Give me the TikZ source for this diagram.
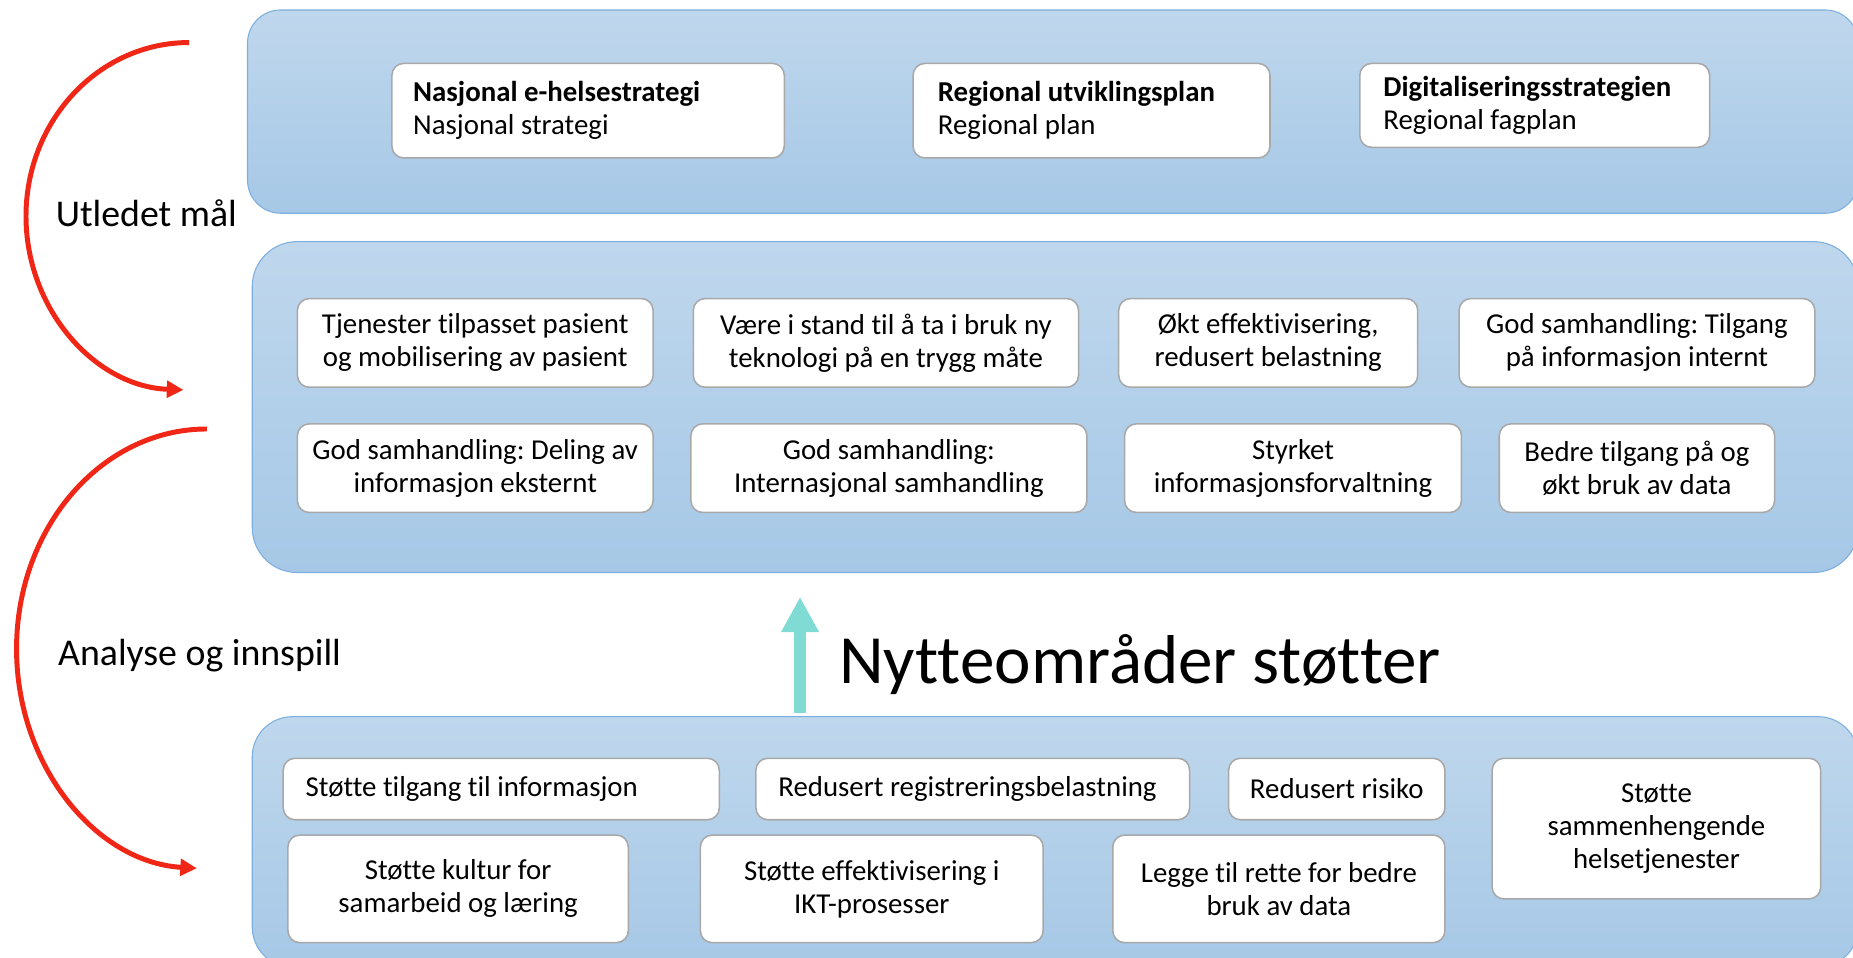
\documentclass[tikz,border=0pt]{standalone}
\usepackage{fontspec}
\setmainfont{Carlito}[Ligatures=NoCommon]
\usetikzlibrary{arrows.meta}

\definecolor{paneltop}{RGB}{191,215,237}
\definecolor{panelbot}{RGB}{166,200,230}
\definecolor{panelline}{RGB}{125,175,222}
\definecolor{boxline}{RGB}{168,168,168}
\definecolor{loopred}{RGB}{240,38,22}
\definecolor{liftteal}{RGB}{128,219,212}

\begin{document}
\frenchspacing
\begin{tikzpicture}[x=1pt,y=-1pt,
  panel/.style={draw=panelline, line width=0.9pt, top color=paneltop, bottom color=panelbot,
    rounded corners=#1, anchor=north west, inner sep=0pt},
  card/.style={draw=boxline, fill=white, line width=1.3pt, rounded corners=10pt,
    font=\fontsize{24.4}{28}\selectfont, anchor=north west, inner sep=0pt, align=flush center},
  leftcard/.style={card, align=flush left, inner xsep=#1},
  sidelabel/.style={anchor=base west, inner sep=0pt, font=\fontsize{32}{38}\selectfont},
  loopline/.style={draw=loopred, line width=4.2pt, -{Triangle[length=14pt,width=14pt]}},
  liftarrow/.style={draw=liftteal, line width=10pt, -{Triangle[length=30pt,width=30pt]}}
]
\useasboundingbox (0,0) rectangle (1568,810);
\clip (0,0) rectangle (1568,810);

% three bands
\node[panel=28pt, minimum width=1363pt, minimum height=172pt] (strat) at (209,8) {};
\node[panel=38pt, minimum width=1359pt, minimum height=280pt] (goals) at (213,204) {};
\node[panel=34pt, minimum width=1359pt, minimum height=212pt] (areas) at (213,606) {};

% strategy documents
\node[leftcard=18pt, text width=296pt, minimum height=80pt] (s1) at (331,53)
  {\textbf{Nasjonal e-helsestrategi}\\Nasjonal strategi};
\node[leftcard=21pt, text width=260pt, minimum height=80pt] (s2) at (772,53)
  {\textbf{Regional utviklingsplan}\\Regional plan};
\node[leftcard=20pt, text width=256pt, minimum height=71pt] (s3) at (1150,53)
  {\textbf{Digitaliseringsstrategien}\\Regional fagplan};

% goals, first row
\node[card, minimum width=301pt, minimum height=75pt] (g1) at (251,252)
  {Tjenester tilpasset pasient\\og mobilisering av pasient};
\node[card, minimum width=326pt, minimum height=75pt] (g2) at (586,252)
  {Være i stand til å ta i bruk ny\\teknologi på en trygg måte};
\node[card, minimum width=253pt, minimum height=75pt] (g3) at (946,252)
  {Økt effektivisering,\\redusert belastning};
\node[card, minimum width=301pt, minimum height=75pt] (g4) at (1234,252)
  {God samhandling: Tilgang\\på informasjon internt};

% goals, second row
\node[card, minimum width=301pt, minimum height=75pt] (g5) at (251,358)
  {God samhandling: Deling av\\informasjon eksternt};
\node[card, minimum width=335pt, minimum height=75pt] (g6) at (584,358)
  {God samhandling:\\Internasjonal samhandling};
\node[card, minimum width=285pt, minimum height=75pt] (g7) at (951,358)
  {Styrket\\informasjonsforvaltning};
\node[card, minimum width=233pt, minimum height=75pt] (g8) at (1268,358)
  {Bedre tilgang på og\\økt bruk av data};

% benefit areas
\node[leftcard=19pt, text width=331pt, minimum height=52pt] (b1) at (239,641)
  {Støtte tilgang til informasjon};
\node[leftcard=19pt, text width=329pt, minimum height=52pt] (b2) at (639,641)
  {Redusert registreringsbelastning};
\node[card, minimum width=183pt, minimum height=52pt] (b3) at (1039,641)
  {Redusert risiko};
\node[card, minimum width=278pt, minimum height=119pt] (b4) at (1262,641)
  {Støtte\\sammenhengende\\helsetjenester};
\node[card, minimum width=288pt, minimum height=91pt] (b5) at (243,706)
  {Støtte kultur for\\samarbeid og læring};
\node[card, minimum width=290pt, minimum height=91pt] (b6) at (592,706)
  {Støtte effektivisering i\\IKT-prosesser};
\node[card, minimum width=281pt, minimum height=91pt] (b7) at (941,706)
  {Legge til rette for bedre\\bruk av data};

% upward arrow and its caption
\coordinate (liftfoot) at (677,603);
\coordinate (lifttip) at (677,505);
\draw[liftarrow] (liftfoot) -- (lifttip);
\node[anchor=base west, inner sep=0pt, font=\fontsize{58.5}{64}\selectfont] (lift) at (710,578)
  {Nytteområder støtter};

% feedback loops on the left
\coordinate (loopA) at (160,36);
\draw[loopline] (loopA) arc[start angle=270, end angle=92, x radius=138, y radius=147];
\node[sidelabel] (derived) at (47,192) {Utledet mål};

\coordinate (loopB) at (175,363);
\draw[loopline] (loopB) arc[start angle=270, end angle=93, x radius=161, y radius=186];
\node[sidelabel] (input) at (49,563) {Analyse og innspill};
\end{tikzpicture}
\end{document}
